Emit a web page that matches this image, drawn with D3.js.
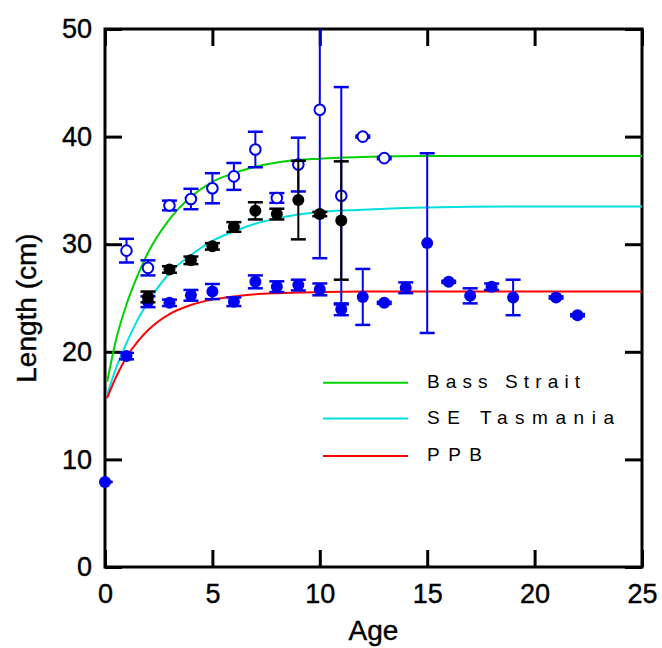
<!doctype html>
<html>
  <head>
    <title>Length at age</title>
    <style>
      html, body { margin: 0; padding: 0; background: #fff; }
      svg { display: block; font-family: "Liberation Sans", Arial, sans-serif; }
      .tick line { stroke: #000; stroke-width: 3px; }
      .tick text { font-size: 27px; fill: #000; stroke: #000; stroke-width: 0.4px; }
      .title { stroke: #000; stroke-width: 0.4px; }
      .fit { fill: none; stroke-width: 2px; }
    </style>
  </head>
  <body>
    <script src="https://d3js.org/d3.v7.min.js"></script>
    <script>
      // Bass Strait samples (open blue circles)
      var openAge = [1, 2, 3, 4, 5, 6, 7, 8, 9, 10, 11, 12, 13];
      var openLen = [29.4, 27.8, 33.6, 34.2, 35.2, 36.3, 38.8, 34.3, 37.4, 42.5, 34.5, 40.0, 38.0];
      var openErr = [1.1, 0.7, 0.45, 0.95, 1.4, 1.25, 1.65, 0.45, 2.5, 13.8, 10.1, 0.1, 0.1];

      // SE Tasmania samples (black dots)
      var tasAge = [2, 3, 4, 5, 6, 7, 8, 9, 10, 11];
      var tasLen = [25.1, 27.65, 28.5, 29.8, 31.6, 33.1, 32.8, 34.1, 32.8, 32.2];
      var tasErr = [0.5, 0.3, 0.35, 0.3, 0.45, 0.8, 0.5, 3.65, 0.2, 5.5];

      // PPB samples (filled blue dots)
      var ppbAge = [0, 1, 2, 3, 4, 5, 6, 7, 8, 9, 10, 11, 12, 13, 14, 15, 16, 17, 18, 19, 21, 22];
      var ppbLen = [7.9, 19.6, 24.65, 24.55, 25.25, 25.6, 24.65, 26.5, 26.05, 26.2, 25.8, 23.95, 25.1, 24.55, 25.95, 30.1, 26.5, 25.2, 26.05, 25.05, 25.05, 23.4];
      var ppbErr = [0, 0.3, 0.5, 0.3, 0.5, 0.7, 0.4, 0.6, 0.5, 0.5, 0.55, 0.55, 2.6, 0.1, 0.5, 8.35, 0.1, 0.7, 0.3, 1.65, 0.1, 0.1];

      // fitted growth curves
      var curveAge = [0.1, 0.5, 1, 1.5, 2, 3, 4, 5, 6, 7, 8, 10, 12, 15, 20, 25];
      var bassFit = [17.2, 21.0, 24.4, 27.0, 29.2, 32.3, 34.4, 35.8, 36.6, 37.2, 37.6, 37.95, 38.1, 38.2, 38.2, 38.2];
      var tasFit = [16.0, 18.4, 20.8, 22.9, 24.6, 27.3, 29.0, 30.3, 31.2, 31.9, 32.4, 33.0, 33.2, 33.4, 33.5, 33.5];
      var ppbFit = [15.7, 17.6, 19.5, 20.9, 22.0, 23.5, 24.35, 24.85, 25.15, 25.35, 25.45, 25.55, 25.6, 25.6, 25.6, 25.6];

      var legendNames = ["Bass Strait", "SE Tasmania", "PPB"];
      var xTicks = [0, 5, 10, 15, 20, 25];
      var yTicks = [0, 10, 20, 30, 40, 50];

      var W = 662, H = 648;
      var pLeft = 105, pRight = 642, pTop = 29, pBottom = 567;

      var x = d3.scaleLinear().domain([0, 25]).range([pLeft, pRight]);
      var y = d3.scaleLinear().domain([0, 50]).range([pBottom, pTop]);

      var svg = d3.select("body").append("svg")
          .attr("width", W)
          .attr("height", H);

      svg.append("defs").append("clipPath").attr("id", "plot")
        .append("rect")
          .attr("x", pLeft).attr("y", pTop)
          .attr("width", pRight - pLeft).attr("height", pBottom - pTop);

      // axes, ticks pointing inward
      svg.append("g")
          .attr("transform", "translate(0," + pBottom + ")")
          .call(d3.axisBottom(x).tickValues(xTicks).tickSizeInner(-17).tickSizeOuter(0).tickPadding(17));
      svg.append("g")
          .attr("transform", "translate(0," + pTop + ")")
          .call(d3.axisTop(x).tickValues(xTicks).tickSizeInner(-17).tickSizeOuter(0).tickFormat(""));
      svg.append("g")
          .attr("transform", "translate(" + pLeft + ",0)")
          .call(d3.axisLeft(y).tickValues(yTicks).tickSizeInner(-17).tickSizeOuter(0).tickPadding(13));
      svg.append("g")
          .attr("transform", "translate(" + pRight + ",0)")
          .call(d3.axisRight(y).tickValues(yTicks).tickSizeInner(-17).tickSizeOuter(0).tickFormat(""));
      svg.selectAll(".domain").remove();

      svg.append("rect")
          .attr("x", pLeft).attr("y", pTop)
          .attr("width", pRight - pLeft).attr("height", pBottom - pTop)
          .attr("fill", "none")
          .attr("stroke", "#000")
          .attr("stroke-width", 3);

      // axis titles
      svg.append("text")
          .attr("class", "title")
          .attr("x", (pLeft + pRight) / 2)
          .attr("y", 640)
          .attr("text-anchor", "middle")
          .style("font-size", "28px")
          .text("Age");
      svg.append("text")
          .attr("class", "title")
          .attr("transform", "translate(36," + ((pTop + pBottom) / 2 + 10) + ") rotate(-90)")
          .attr("text-anchor", "middle")
          .style("font-size", "28px")
          .text("Length (cm)");

      // fitted curves
      var colours = ["#00d200", "#00e0e0", "#ff0000"];
      var fits = [bassFit, tasFit, ppbFit];
      var line = d3.line()
          .x(function(d) { return x(d[0]); })
          .y(function(d) { return y(d[1]); })
          .curve(d3.curveMonotoneX);

      fits.forEach(function(f, i) {
        svg.append("path")
            .datum(curveAge.map(function(a, j) { return [a, f[j]]; }))
            .attr("class", "fit")
            .attr("stroke", colours[i])
            .attr("d", line);
      });

      // points with error bars
      function drawSeries(ages, lens, errs, colour, filled) {
        var data = ages.map(function(a, i) { return { a: a, l: lens[i], e: errs[i] }; });
        var g = svg.append("g");
        var bars = g.append("g").attr("clip-path", "url(#plot)");
        bars.selectAll("line.v").data(data).enter().append("line")
            .attr("x1", function(d) { return x(d.a); })
            .attr("x2", function(d) { return x(d.a); })
            .attr("y1", function(d) { return y(d.l + d.e); })
            .attr("y2", function(d) { return y(d.l - d.e); })
            .attr("stroke", colour).attr("stroke-width", 2);
        [1, -1].forEach(function(s) {
          bars.selectAll("line.c" + s).data(data).enter().append("line")
              .attr("x1", function(d) { return x(d.a) - 7.5; })
              .attr("x2", function(d) { return x(d.a) + 7.5; })
              .attr("y1", function(d) { return y(d.l + s * d.e); })
              .attr("y2", function(d) { return y(d.l + s * d.e); })
              .attr("stroke", colour).attr("stroke-width", 2.5);
        });
        g.selectAll("circle").data(data).enter().append("circle")
            .attr("cx", function(d) { return x(d.a); })
            .attr("cy", function(d) { return y(d.l); })
            .attr("r", filled ? 6 : 5.3)
            .attr("fill", filled ? colour : "#fff")
            .attr("stroke", colour)
            .attr("stroke-width", filled ? 0 : 2);
      }

      drawSeries(openAge, openLen, openErr, "#0000f0", false);
      drawSeries(ppbAge, ppbLen, ppbErr, "#0000f0", true);
      drawSeries(tasAge, tasLen, tasErr, "#000", true);

      // legend
      var legY = [382.7, 418.5, 456];
      var legW = [153, 187, 55];
      legendNames.forEach(function(n, i) {
        svg.append("line")
            .attr("x1", 323).attr("x2", 408)
            .attr("y1", legY[i]).attr("y2", legY[i])
            .attr("stroke", colours[i]).attr("stroke-width", 2);
        svg.append("text")
            .attr("x", 427)
            .attr("y", legY[i] + 5)
            .attr("textLength", legW[i])
            .attr("lengthAdjust", "spacing")
            .style("font-size", "19px")
            .text(n);
      });
    </script>
  </body>
</html>
